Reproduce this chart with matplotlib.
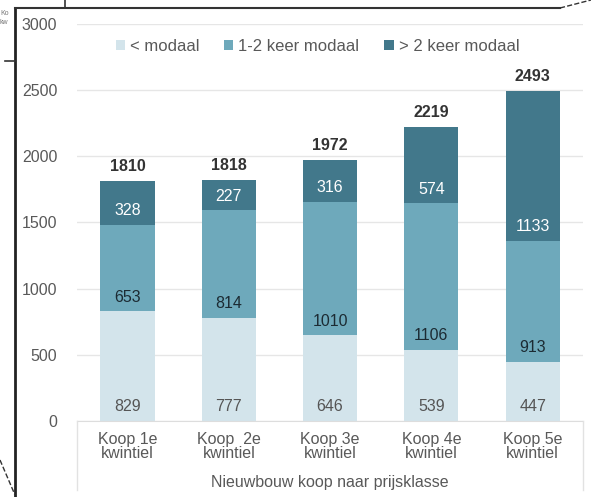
import numpy as np
import matplotlib.pyplot as plt
from matplotlib.lines import Line2D

plt.rcParams['font.family'] = ['Liberation Sans', 'DejaVu Sans']

categories = ["Koop 1e\nkwintiel", "Koop  2e\nkwintiel", "Koop 3e\nkwintiel",
              "Koop 4e\nkwintiel", "Koop 5e\nkwintiel"]
onder_modaal = [829, 777, 646, 539, 447]
modaal_1_2 = [653, 814, 1010, 1106, 913]
boven_2 = [328, 227, 316, 574, 1133]
totaal = [1810, 1818, 1972, 2219, 2493]
series_names = ["< modaal", "1-2 keer modaal", "> 2 keer modaal"]
colors = ["#d3e4eb", "#6ea9bb", "#42788b"]
label_colors = ["#555555", "#1c2b33", "#ffffff"]

fig = plt.figure(figsize=(5.91, 4.97), dpi=100)
ax = fig.add_axes([0.130, 0.153, 0.857, 0.799])

x = np.arange(len(categories))
bottom = np.zeros(len(categories))
for vals, name, c, lc in zip([onder_modaal, modaal_1_2, boven_2], series_names, colors, label_colors):
    ax.bar(x, vals, 0.535, bottom=bottom, color=c, label=name, zorder=2)
    for xi, b, v in zip(x, bottom, vals):
        ax.text(xi, b + 107, str(v), ha='center', va='center', fontsize=11.5, color=lc, zorder=3)
    bottom = bottom + np.array(vals)

for xi, t in zip(x, totaal):
    ax.text(xi, t + 110, str(t), ha='center', va='center', fontsize=11.5,
            fontweight='bold', color='#333333')

ax.set_xlim(-0.5, 4.5)
ax.set_ylim(0, 3000)
ax.set_yticks(np.arange(0, 3001, 500))
ax.yaxis.grid(True, color='#e6e6e6', linewidth=1, zorder=0)
ax.set_axisbelow(True)
for s in ['top', 'right', 'left']:
    ax.spines[s].set_visible(False)
ax.spines['bottom'].set_color('#dddddd')
ax.tick_params(axis='y', length=0, pad=14, labelsize=11.5, labelcolor='#595959')
ax.tick_params(axis='x', length=0, pad=8, labelsize=11.5, labelcolor='#595959')
ax.set_xticks(x)
ax.set_xticklabels(categories, linespacing=0.95)
ax.set_xlabel("Nieuwbouw koop naar prijsklasse", fontsize=11.5, color='#595959', labelpad=10)

# light category box lines below the axis
for xv in [77, 583]:
    fig.add_artist(Line2D([xv / 591, xv / 591], [1 - 421 / 497, 1 - 490 / 497],
                          color='#e2e2e2', linewidth=1))

ax.legend(loc='upper center', bbox_to_anchor=(0.475, 1.0), ncol=3, frameon=False,
          fontsize=12, handlelength=0.55, handleheight=0.55, handletextpad=0.3,
          columnspacing=1.5, labelcolor='#595959')

# frame of the screenshot
fig.add_artist(Line2D([15 / 591, 15 / 591], [0, 1 - 8 / 497], color='#222222', linewidth=2))
fig.add_artist(Line2D([15 / 591, 560 / 591], [1 - 8 / 497, 1 - 8 / 497], color='#333333', linewidth=1.5))
fig.add_artist(Line2D([560 / 591, 591 / 591], [1 - 8 / 497, 1 - 0 / 497], color='#333333',
                      linewidth=1, linestyle='--'))
fig.add_artist(Line2D([0, 15 / 591], [1 - 460 / 497, 1 - 495 / 497], color='#333333',
                      linewidth=1, linestyle='--'))
fig.add_artist(Line2D([5 / 591, 15 / 591], [1 - 61 / 497, 1 - 61 / 497], color='#333333', linewidth=1.2))
fig.add_artist(Line2D([65 / 591, 65 / 591], [1, 1 - 8 / 497], color='#333333', linewidth=1.2))
fig.text(0, 1 - 18 / 497, "Ko\nkw", fontsize=5, color='#777777', va='center', linespacing=1.3)

fig.savefig("out.png", dpi=100)
